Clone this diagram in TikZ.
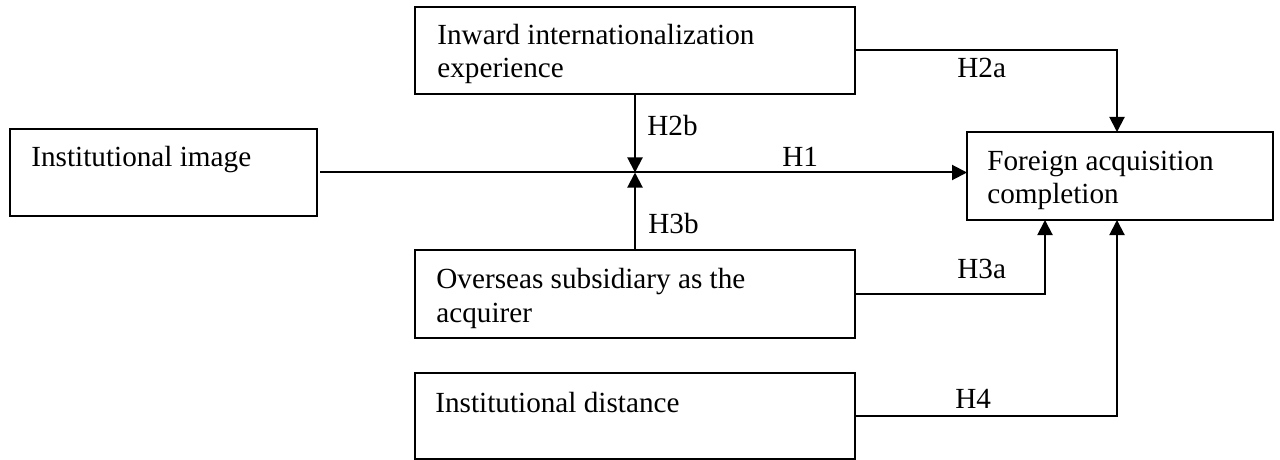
\documentclass[tikz,border=0pt]{standalone}
\usepackage{fontspec}
\setmainfont{Liberation Serif}
\usetikzlibrary{arrows.meta,calc}
\begin{document}
\begin{tikzpicture}[x=0.5pt,y=-0.5pt,
  box/.style={draw,line width=1pt,rectangle,inner sep=0pt,outer sep=0pt,anchor=north west},
  txt/.style={anchor=base west,inner sep=0pt,align=left,font=\fontsize{14.6}{17}\selectfont},
  hlab/.style={anchor=base west,inner sep=0pt,font=\fontsize{14.6}{17}\selectfont},
  conn/.style={line width=1pt},
  arr/.style={conn,-{Triangle[length=7.5pt,width=7.5pt]}}]
\useasboundingbox (0,0) rectangle (1280,460);
% boxes
\node[box,minimum width=153.5pt,minimum height=43.5pt] (ii) at (10,129) {};
\node[box,minimum width=220pt,minimum height=43.5pt] (iie) at (415,7) {};
\node[box,minimum width=153pt,minimum height=44pt] (fac) at (967,132) {};
\node[box,minimum width=220pt,minimum height=44pt] (osa) at (415,250) {};
\node[box,minimum width=220pt,minimum height=43pt] (dist) at (415,373) {};
% box texts (base anchor = baseline of last line)
\node[txt] (iit) at ($(ii.north west)+(21,38)$) {Institutional image};
\node[txt] (iiet) at ($(iie.north west)+(22,71)$) {Inward internationalization\\experience};
\node[txt] (fact) at ($(fac.north west)+(20,72)$) {Foreign acquisition\\completion};
\node[txt] (osat) at ($(osa.north west)+(21,72)$) {Overseas subsidiary as the\\acquirer};
\node[txt] (distt) at ($(dist.north west)+(20,39)$) {Institutional distance};
% junction coordinates
\coordinate (j) at (635,172.5);
\coordinate (c2a) at (1117,50);
\coordinate (c3a) at (1045,294);
\coordinate (c4) at (1117,416);
% connectors
\draw[arr] ($(ii.east)+(3,0)$) -- (ii.east -| fac.west);
\draw[arr] (iie.south -| j) -- (j);
\draw[arr] (osa.north -| j) -- (j);
\draw[arr] (iie.east) -- (iie.east -| c2a) -- (fac.north -| c2a);
\draw[arr] (osa.east) -- (osa.east -| c3a) -- (fac.south -| c3a);
\draw[arr] (dist.east) -- (dist.east -| c4) -- (fac.south -| c4);
% labels
\node[hlab] (h1) at (782,167) {H1};
\node[hlab] (h2a) at (957,78) {H2a};
\node[hlab] (h2b) at (647,135) {H2b};
\node[hlab] (h3a) at (957,278) {H3a};
\node[hlab] (h3b) at (648,233) {H3b};
\node[hlab] (h4) at (955,408) {H4};
\end{tikzpicture}
\end{document}
